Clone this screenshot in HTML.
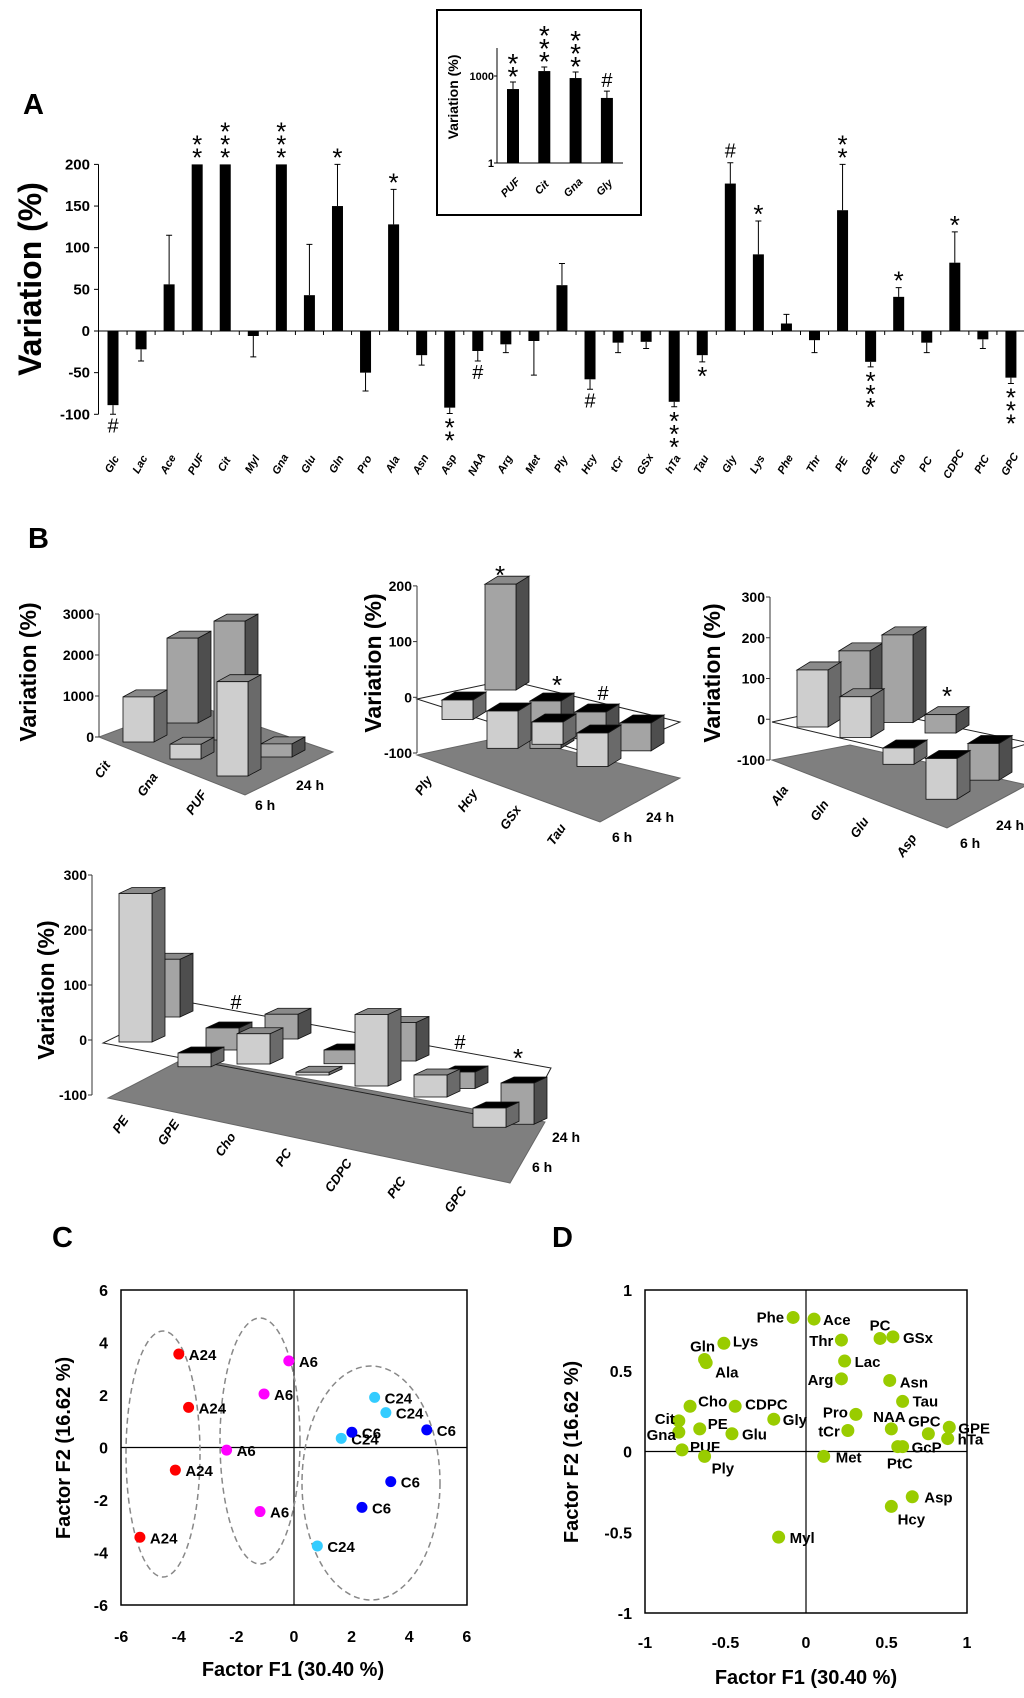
<!DOCTYPE html>
<html><head><meta charset="utf-8">
<style>
html,body{margin:0;padding:0;background:#fff;}
svg{display:block;font-family:"Liberation Sans",Arial,sans-serif;}
.tk{font-family:"Liberation Sans Narrow","Liberation Sans",sans-serif;font-weight:bold;}
</style></head>
<body>
<svg id="fig" xmlns="http://www.w3.org/2000/svg" width="1024" height="1698" viewBox="0 0 1024 1698">
<rect x="0" y="0" width="1024" height="1698" fill="#fff"/>
<text x="23" y="114" font-size="29" font-weight="bold">A</text>
<text x="28" y="548" font-size="29" font-weight="bold">B</text>
<text x="52" y="1247" font-size="29" font-weight="bold">C</text>
<text x="552" y="1247" font-size="29" font-weight="bold">D</text>
<text transform="translate(41,279) rotate(-90)" text-anchor="middle" font-size="32" font-weight="bold">Variation (%)</text>
<rect x="437" y="10" width="204" height="205" fill="none" stroke="#000" stroke-width="2"/>
<text transform="translate(458,97) rotate(-90)" text-anchor="middle" font-size="14" font-weight="bold">Variation (%)</text>
<text transform="translate(36,672) rotate(-90)" text-anchor="middle" font-size="23" font-weight="bold">Variation (%)</text>
<text transform="translate(381,663) rotate(-90)" text-anchor="middle" font-size="23" font-weight="bold">Variation (%)</text>
<text transform="translate(720,673) rotate(-90)" text-anchor="middle" font-size="23" font-weight="bold">Variation (%)</text>
<text transform="translate(54,990) rotate(-90)" text-anchor="middle" font-size="23" font-weight="bold">Variation (%)</text>
<text x="293" y="1676" text-anchor="middle" font-size="20" font-weight="bold" class="tk">Factor F1 (30.40 %)</text>
<text transform="translate(70,1448) rotate(-90)" text-anchor="middle" font-size="20" font-weight="bold">Factor F2 (16.62 %)</text>
<text x="806" y="1684" text-anchor="middle" font-size="20" font-weight="bold" class="tk">Factor F1 (30.40 %)</text>
<text transform="translate(578,1452) rotate(-90)" text-anchor="middle" font-size="20" font-weight="bold">Factor F2 (16.62 %)</text>
<g id="gA"></g>
<g id="gI"></g>
<g id="gB"></g>
<g id="gC"></g>
<g id="gD"></g>
</svg>
<script>
// ---- Panel A data ----
const aCats=['Glc','Lac','Ace','PUF','Cit','Myl','Gna','Glu','Gln','Pro','Ala','Asn','Asp','NAA','Arg','Met','Ply','Hcy','tCr','GSx','hTa','Tau','Gly','Lys','Phe','Thr','PE','GPE','Cho','PC','CDPC','PtC','GPC'];
const aVals=[-89,-22,56,200,200,-6,200,43,150,-50,128,-29,-92,-24,-16,-12,55,-58,-14,-13,-85,-29,177,92,9,-11,145,-37,41,-14,82,-10,-56];
const aErrEnd=[-100,-36,115,null,null,-31,null,104,200,-72,170,-41,-99,-36,-26,-53,81,-70,-26,-21,-91,-37,202,132,20,-26,200,-43,52,-26,119,-21,-63];
const aSig=['#','','','**','***','','***','','*','','*','','**','#','','','','#','','','***','*','#','*','','','**','***','*','','*','','***'];
const aTicks=[200,150,100,50,0,-50,-100];
// ---- Inset data ----
const iCats=['PUF','Cit','Gna','Gly'];
const iVals=[355,1480,850,175];
const iErrEnd=[620,2050,1380,300];
const iSig=['**','***','***','#'];
const iTicks=[1,1000];
// ---- Panel B data ----
const b1Cats=['Cit','Gna','PUF'];
const b1Front6h=[1100,360,2300];
const b1Back24h=[2070,2900,320];
const b1Ticks=[0,1000,2000,3000];
const b2Cats=['Ply','Hcy','GSx','Tau'];
const b2Front6h=[-35,-67,-40,-60];
const b2Back24h=[190,-85,-48,-50];
const b2Ticks=[-100,0,100,200];
const b3Cats=['Ala','Gln','Glu','Asp'];
const b3Front6h=[140,100,-40,-100];
const b3Back24h=[150,215,45,-90];
const b3Ticks=[-100,0,100,200,300];
const b4Cats=['PE','GPE','Cho','PC','CDPC','PtC','GPC'];
const b4Front6h=[270,-25,55,5,130,40,-35];
const b4Back24h=[105,-40,45,-25,70,-30,-75];
const b4Ticks=[-100,0,100,200,300];
// ---- Panel C data ----
const cNames=['A24','A24','A24','A24','A6','A6','A6','A6','C24','C24','C24','C24','C6','C6','C6','C6'];
const cF1=[-4.0,-3.66,-4.12,-5.35,-0.18,-1.04,-2.34,-1.18,2.8,3.19,1.64,0.81,2.01,4.61,3.36,2.36];
const cF2=[3.56,1.53,-0.86,-3.42,3.3,2.04,-0.1,-2.44,1.91,1.33,0.35,-3.75,0.58,0.67,-1.3,-2.28];
const cTicks=[-6,-4,-2,0,2,4,6];
// ---- Panel D data ----
const dNames=['Phe','Ace','PC','GSx','Thr','Gln','Ala','Lys','Lac','Arg','Asn','Tau','Cho','CDPC','Pro','Gly','Cit','PE','NAA','GPC','GPE','Gna','tCr','Glu','hTa','PtC','GcP','PUF','Ply','Met','Asp','Hcy','Myl'];
const dF1=[-0.08,0.05,0.46,0.54,0.22,-0.63,-0.62,-0.51,0.24,0.22,0.52,0.60,-0.72,-0.44,0.31,-0.20,-0.79,-0.66,0.53,0.76,0.89,-0.79,0.26,-0.46,0.88,0.57,0.60,-0.77,-0.63,0.11,0.66,0.53,-0.17];
const dF2=[0.83,0.82,0.70,0.71,0.69,0.57,0.55,0.67,0.56,0.45,0.44,0.31,0.28,0.28,0.23,0.20,0.19,0.14,0.14,0.11,0.15,0.12,0.13,0.11,0.08,0.03,0.03,0.01,-0.03,-0.03,-0.28,-0.34,-0.53];
const dTicksX=[-1,-0.5,0,0.5,1];
const dTicksY=[1,0.5,0,-0.5,-1];

const NS='http://www.w3.org/2000/svg';
function mk(tag,attrs,parent){const e=document.createElementNS(NS,tag);for(const k in attrs)e.setAttribute(k,attrs[k]);parent.appendChild(e);return e;}
function txt(parent,x,y,s,size,extra){const e=mk('text',Object.assign({x:x,y:y,'font-size':size},extra||{}),parent);e.textContent=s;return e;}

// ===== Panel A =====
(function(){
const g=document.getElementById('gA');
const xA=i=>113+i*28.06;
const yA=v=>331-v*0.833;
let el=mk('line',{x1:98.5,y1:yA(200),x2:98.5,y2:yA(-100),stroke:'#000','stroke-width':1},g);


aTicks.forEach(t=>{
 let tl=mk('line',{x1:94,y1:yA(t),x2:98.5,y2:yA(t),stroke:'#000'},g);
 
 
 let tt=txt(g,90,yA(t)+5,String(t),15,{'text-anchor':'end','class':'tk'});
 
 
});
aCats.forEach((c,i)=>{
 const v=aVals[i],x=xA(i);
 const b=mk('rect',{x:x-5.5,y:Math.min(yA(v),yA(0)),width:11,height:Math.abs(yA(v)-yA(0)),fill:'#000'},g);
 
 
 const e=aErrEnd[i];
 if(e!==null){
  const eb=mk('path',{d:`M${x},${yA(v)}V${yA(e)}M${x-3},${yA(e)}H${x+3}`,stroke:'#000','stroke-width':1,fill:'none'},g);
  
  
 }
 if(i>0){const tk=mk('line',{x1:x-14,y1:331,x2:x-14,y2:335,stroke:'#000'},g);
  
  }
 const lb=txt(g,0,0,c,11,{'font-style':'italic','font-weight':'bold','text-anchor':'middle',transform:`translate(${x+2},${466}) rotate(-60)`});
 
 
 const s=aSig[i];
 if(s){
  const up=v>=0;
  const ext=e===null?v:(up?Math.max(v,e):Math.min(v,e));
  const yy=yA(ext);
  if(s==='#'){
   const h=txt(g,x,up?yy-5:yy+18,'#',20,{'text-anchor':'middle'});
   
   
  }else{
   for(let k=0;k<s.length;k++){
    const cy=up?yy-10-k*13:yy+11+k*13;
    const st=txt(g,x,cy+12,'*',26,{'text-anchor':'middle'});
    
    
   }
  }
 }
});
el=mk('line',{x1:98.5,y1:331,x2:1024,y2:331,stroke:'#000','stroke-width':1},g);


})();

// ===== Inset =====
(function(){
const g=document.getElementById('gI');
const xI=i=>513+i*31.3;
const yI=v=>163-Math.log10(v)*29;
let el=mk('path',{d:'M497,48V163H623',stroke:'#000',fill:'none'},g);


iTicks.forEach(t=>{
 const tt=txt(g,494,yI(t)+4,String(t),11,{'text-anchor':'end','class':'tk'});
 
 
 const tl=mk('line',{x1:494,y1:yI(t),x2:497,y2:yI(t),stroke:'#000'},g);
 
 
});
iCats.forEach((c,i)=>{
 const x=xI(i),v=iVals[i],e=iErrEnd[i];
 const b=mk('rect',{x:x-6,y:yI(v),width:12,height:163-yI(v),fill:'#000'},g);
 
 
 const eb=mk('path',{d:`M${x},${yI(v)}V${yI(e)}M${x-3},${yI(e)}H${x+3}`,stroke:'#000',fill:'none'},g);
 
 
 const lb=txt(g,0,0,c,11,{'font-style':'italic','font-weight':'bold','text-anchor':'middle',transform:`translate(${x},${190}) rotate(-45)`});
 
 
 const s=iSig[i],yy=yI(e);
 if(s==='#'){const h=txt(g,x,yy-4,'#',20,{'text-anchor':'middle'});
  
  }
 else for(let k=0;k<s.length;k++){
  const st=txt(g,x,yy-8-k*13+12,'*',28,{'text-anchor':'middle'});
  
  
 }
});
})();

// ===== Panel B (3D bars) =====
function draw3D(cfg,cats,front,back,ticks,name){
 const g=document.getElementById('gB');
 const sub=mk('g',{},g);
 
 
 const fl=mk('polygon',{points:cfg.floor.map(p=>p.join(',')).join(' '),fill:'#7f7f7f',stroke:'#666'},sub);
 
 
 if(cfg.plane){const pl=mk('polygon',{points:cfg.plane.map(p=>p.join(',')).join(' '),fill:'none',stroke:'#222','stroke-width':1},sub);
  
  }
 const ay=v=>cfg.axis[1]-(v-ticks[0])*cfg.k;
 const ax=mk('line',{x1:cfg.axis[0],y1:ay(ticks[0]),x2:cfg.axis[0],y2:ay(ticks[ticks.length-1]),stroke:'#333'},sub);
 
 
 ticks.forEach(t=>{
  const tl=mk('line',{x1:cfg.axis[0]-4,y1:ay(t),x2:cfg.axis[0],y2:ay(t),stroke:'#333'},sub);
  
  
  const tt=txt(sub,cfg.axis[0]-5,ay(t)+5,String(t),14,{'text-anchor':'end','class':'tk'});
  
  
 });
 const P0=cfg.P0,c=cfg.c,d=cfg.d,k=cfg.k,w=cfg.w,o=cfg.o;
 const rows=[front,back];
 [1,0].forEach(r=>{
  rows[r].forEach((v,i)=>{
   if(v===null)return;
   const bx=P0[0]+i*c[0]+r*d[0],by=P0[1]+i*c[1]+r*d[1];
   const yt=by-v*k,top=Math.min(by,yt),bot=Math.max(by,yt);
   const bg=mk('g',{},sub);
   
   
   mk('polygon',{points:`${bx+w},${top} ${bx+w+o[0]},${top+o[1]} ${bx+w+o[0]},${bot+o[1]} ${bx+w},${bot}`,fill:r?'#4e4e4e':'#6a6a6a',stroke:'#111','stroke-width':0.8},bg);
   mk('polygon',{points:`${bx},${top} ${bx+w},${top} ${bx+w+o[0]},${top+o[1]} ${bx+o[0]},${top+o[1]}`,fill:v>=0?'#8a8a8a':'#000',stroke:'#111','stroke-width':0.8},bg);
   mk('rect',{x:bx,y:top,width:w,height:bot-top,fill:r?'#a4a4a4':'#cecece',stroke:'#111','stroke-width':0.8},bg);
  });
 });
 cats.forEach((cn,i)=>{
  const p=cfg.labels[i];
  const lb=txt(sub,0,0,cn,13,{'font-style':'italic','font-weight':'bold','text-anchor':'middle',transform:`translate(${p[0]},${p[1]}) rotate(-55)`});
  
  
 });
 const l24=txt(sub,cfg.h24[0],cfg.h24[1],'24 h',14,{'class':'tk'});
 
 
 const l6=txt(sub,cfg.h6[0],cfg.h6[1],'6 h',14,{'class':'tk'});
 
 
 (cfg.sig||[]).forEach(s=>{
  const st=txt(sub,s[0],s[1],s[2],s[2]==='#'?20:26,{'text-anchor':'middle'});
  
  
 });
}
draw3D({P0:[123,742],c:[47,17],d:[44,-19],k:0.041,w:31,o:[13,-7],axis:[99,737],
 floor:[[99,737],[245,795],[333,752],[190,703]],labels:[[106,772],[151,787],[200,805]],h24:[296,790],h6:[255,810]},
 b1Cats,b1Front6h,b1Back24h,b1Ticks,'b1-chart');
draw3D({P0:[442,700],c:[45,11],d:[43,-10],k:0.557,w:31,o:[13,-8],axis:[417,753],
 plane:[[417,699],[600,757],[680,722],[507,680]],floor:[[417,755],[600,822],[680,778],[507,736]],
 labels:[[427,788],[471,803],[514,820],[560,837]],h24:[646,822],h6:[612,842],
 sig:[[500,584,'*'],[557,694,'*'],[603,700,'#']]},
 b2Cats,b2Front6h,b2Back24h,b2Ticks,'b2-chart');
draw3D({P0:[797,727],c:[43,10.5],d:[42,-15],k:0.4075,w:31,o:[13,-8],axis:[770,760],
 plane:[[772,722],[955,765],[1030,743],[850,705]],floor:[[772,760],[947,828],[1027,785],[850,745]],
 labels:[[783,798],[823,813],[863,830],[910,848]],h24:[996,830],h6:[960,848],
 sig:[[947,705,'*']]},
 b3Cats,b3Front6h,b3Back24h,b3Ticks,'b3-chart');
draw3D({P0:[119,1042],c:[59,11],d:[28,-25],k:0.55,w:33,o:[13,-6],axis:[92,1095],
 plane:[[103,1043],[522,1123],[551,1068],[187,1002]],floor:[[108,1098],[510,1183],[545,1122],[187,1057]],
 labels:[[124,1127],[172,1135],[229,1147],[287,1160],[342,1178],[400,1190],[459,1202]],h24:[552,1142],h6:[532,1172],
 sig:[[236,1009,'#'],[460,1049,'#'],[518,1067,'*']]},
 b4Cats,b4Front6h,b4Back24h,b4Ticks,'b4-chart');

// ===== Panel C =====
(function(){
const g=document.getElementById('gC');
const xC=v=>294+v*28.8, yC=v=>1447.5-v*26.25;
let el=mk('rect',{x:121,y:1290,width:346,height:315,fill:'none',stroke:'#000','stroke-width':1.5},g);


el=mk('path',{d:`M${xC(0)},1290V1605M121,${yC(0)}H467`,stroke:'#000','stroke-width':1.2},g);


[[163,1454,37,123],[260,1441,40,123],[371,1483,69,117]].forEach(e=>{
 const el2=mk('ellipse',{cx:e[0],cy:e[1],rx:e[2],ry:e[3],fill:'none',stroke:'#888','stroke-width':1.5,'stroke-dasharray':'6,4'},g);
 
 
});
cTicks.forEach(t=>{
 const a=txt(g,xC(t),1642,String(t),16,{'text-anchor':'middle','class':'tk'});
 
 
 const b=txt(g,108,yC(t)+6,String(t),16,{'text-anchor':'end','class':'tk'});
 
 
});
const col={A24:'#ff0000',A6:'#ff00ff',C24:'#33ccff',C6:'#0000ff'};
cNames.forEach((n,i)=>{
 const x=xC(cF1[i]),y=yC(cF2[i]);
 const p=mk('circle',{cx:x,cy:y,r:5.5,fill:col[n]},g);
 
 
 const l=txt(g,x+10,y+6,n,15,{'class':'tk'});
 
 
});
})();

// ===== Panel D =====
(function(){
const g=document.getElementById('gD');
const xD=v=>806+v*161, yD=v=>1451.5-v*161.5;
let el=mk('rect',{x:645,y:1290,width:322,height:323,fill:'none',stroke:'#000','stroke-width':1.5},g);


el=mk('path',{d:`M${xD(0)},1290V1613M645,${yD(0)}H967`,stroke:'#000','stroke-width':1.2},g);


dTicksX.forEach(t=>{
 const a=txt(g,xD(t),1648,String(t),16,{'text-anchor':'middle','class':'tk'});
 
 
});
dTicksY.forEach(t=>{
 const b=txt(g,632,yD(t)+6,String(t),16,{'text-anchor':'end','class':'tk'});
 
 
});
// label offsets (layout only): [anchor, dx, dy]
const off={Phe:['end',-9,5],Ace:['start',9,6],PC:['middle',0,-8],GSx:['start',10,6],Thr:['end',-8,6],Gln:['middle',-2,-8],Ala:['start',9,15],Lys:['start',9,3],Lac:['start',10,6],Arg:['end',-8,6],Asn:['start',10,7],Tau:['start',10,5],Cho:['start',8,0],CDPC:['start',10,3],Pro:['end',-8,3],Gly:['start',9,6],Cit:['end',-4,3],PE:['start',8,0],NAA:['middle',-2,-7],GPC:['middle',-4,-7],GPE:['start',9,6],Gna:['end',-3,8],tCr:['end',-8,6],Glu:['start',10,6],hTa:['start',10,6],PtC:['middle',2,22],GcP:['start',9,6],PUF:['start',8,2],Ply:['start',7,17],Met:['start',12,6],Asp:['start',12,6],Hcy:['middle',20,18],Myl:['start',11,6]};
dNames.forEach((n,i)=>{
 const x=xD(dF1[i]),y=yD(dF2[i]);
 const p=mk('circle',{cx:x,cy:y,r:6.5,fill:'#99cc00'},g);
 
 
 const o=off[n]||['start',9,5];
 const l=txt(g,x+o[1],y+o[2],n,15,{'text-anchor':o[0],'class':'tk'});
 
 
});
})();
</script>
</body></html>
